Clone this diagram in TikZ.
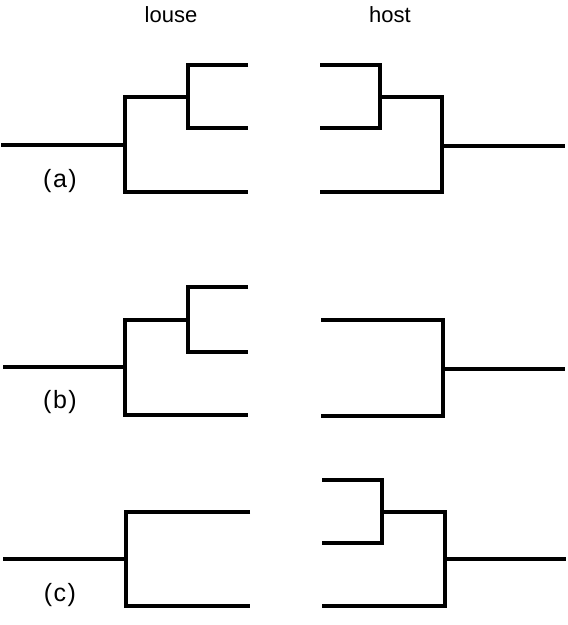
\documentclass[tikz,border=0pt]{standalone}
\usepackage{fontspec}
\setmainfont{Liberation Sans}
\begin{document}
\begin{tikzpicture}[x=1pt,y=-1pt,
  branch/.style={line width=3.2pt,line join=miter,line cap=butt},
  lab/.style={font=\fontsize{22}{26}\selectfont,inner sep=0pt,anchor=base},
  panel/.style={font=\fontsize{25}{28}\selectfont,inner sep=0pt}]
\useasboundingbox (0,0) rectangle (568,625);
% column titles
\node[lab] (louse) at (171,22) {louse};
\node[lab] (host) at (390,22) {host};
% ---------- (a) ----------
\node[panel] (pa) at (60,181) {(\hspace{1.5pt}a\hspace{1.5pt})};
\coordinate (aL1) at (248,65);
\coordinate (aL2) at (248,128);
\coordinate (aL3) at (248,192);
\coordinate (aLi) at (188,97);
\coordinate (aLo) at (125,145);
\coordinate (aLr) at (1,145);
\draw[branch] (aL1) -| (aLi) |- (aL2);
\draw[branch] (aLi) -| (aLo) |- (aL3);
\draw[branch] (aLo) -- (aLr);
\coordinate (aR1) at (320,65);
\coordinate (aR2) at (320,128);
\coordinate (aR3) at (320,192);
\coordinate (aRi) at (380,97);
\coordinate (aRo) at (442,146);
\coordinate (aRr) at (565,146);
\draw[branch] (aR1) -| (aRi) |- (aR2);
\draw[branch] (aRi) -| (aRo) |- (aR3);
\draw[branch] (aRo) -- (aRr);
% ---------- (b) ----------
\node[panel] (pb) at (60,402) {(\hspace{1.5pt}b\hspace{1.5pt})};
\coordinate (bL1) at (248,287);
\coordinate (bL2) at (248,352);
\coordinate (bL3) at (248,415);
\coordinate (bLi) at (188,320);
\coordinate (bLo) at (125,367);
\coordinate (bLr) at (3,367);
\draw[branch] (bL1) -| (bLi) |- (bL2);
\draw[branch] (bLi) -| (bLo) |- (bL3);
\draw[branch] (bLo) -- (bLr);
\coordinate (bR1) at (321,320);
\coordinate (bR2) at (321,416);
\coordinate (bRo) at (443,369);
\coordinate (bRr) at (565,369);
\draw[branch] (bR1) -| (bRo) |- (bR2);
\draw[branch] (bRo) -- (bRr);
% ---------- (c) ----------
\node[panel] (pc) at (60,595) {(\hspace{1.5pt}c\hspace{1.5pt})};
\coordinate (cL1) at (250,512);
\coordinate (cL2) at (250,606);
\coordinate (cLo) at (126,559);
\coordinate (cLr) at (3,559);
\draw[branch] (cL1) -| (cLo) |- (cL2);
\draw[branch] (cLo) -- (cLr);
\coordinate (cR1) at (322,480);
\coordinate (cR2) at (322,543);
\coordinate (cR3) at (322,606);
\coordinate (cRi) at (382,512);
\coordinate (cRo) at (445,559);
\coordinate (cRr) at (566,559);
\draw[branch] (cR1) -| (cRi) |- (cR2);
\draw[branch] (cRi) -| (cRo) |- (cR3);
\draw[branch] (cRo) -- (cRr);
\end{tikzpicture}
\end{document}
